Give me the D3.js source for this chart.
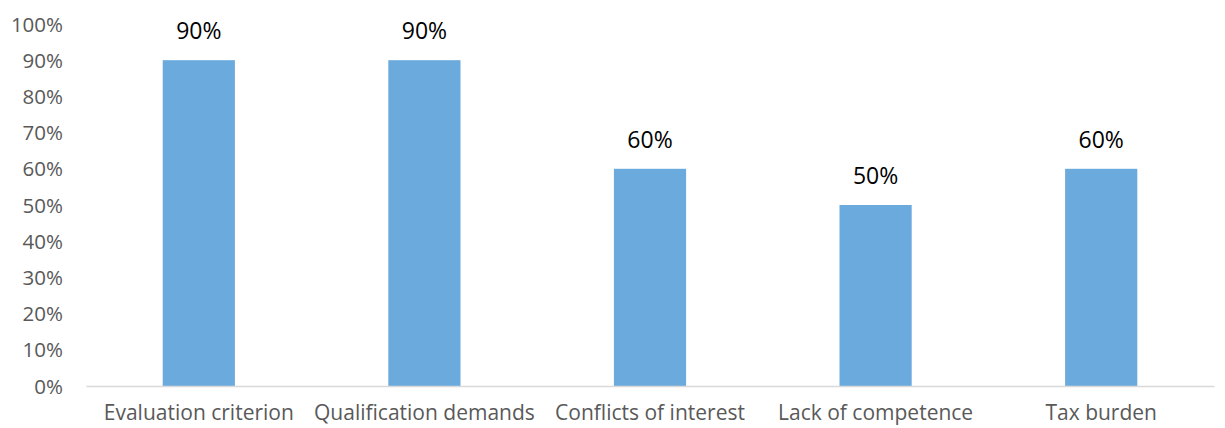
<!DOCTYPE html>
<html><head><meta charset="utf-8">
<script src="https://cdn.jsdelivr.net/npm/d3@7"></script>
<style>body{margin:0;background:#fff}</style>
</head><body>
<svg id="c" width="1225" height="428"></svg>
<script>
const categories = ["Evaluation criterion","Qualification demands","Conflicts of interest","Lack of competence","Tax burden"];
const values = [0.9,0.9,0.6,0.5,0.6];
const yTicks = [0,0.1,0.2,0.3,0.4,0.5,0.6,0.7,0.8,0.9,1.0];

const svg = d3.select("#c");
const x = d3.scaleBand().domain(categories).range([86,1214]).padding(0);
const y = d3.scaleLinear().domain([0,1]).range([386,24]);
const barW = x.bandwidth()*0.32;
const font = "'Open Sans', sans-serif";

const yAxis = d3.axisLeft(y).tickValues(yTicks).tickFormat(d3.format(".0%")).tickSize(0).tickPadding(0);
const gy = svg.append("g").attr("transform","translate(63,0)").call(yAxis);
gy.select(".domain").remove();
gy.selectAll("text").attr("font-family",font).attr("font-size",20.5).attr("fill","#595959").attr("dy","0.35em");

svg.selectAll("rect.bar").data(values).join("rect").attr("class","bar")
  .attr("x",(d,i)=>x(categories[i])+x.bandwidth()/2-barW/2)
  .attr("width",barW)
  .attr("y",d=>y(d)).attr("height",d=>y(0)-y(d))
  .attr("fill","#6aaadc");

const xAxis = d3.axisBottom(x).tickSize(0).tickPadding(0);
const gx = svg.append("g").attr("transform","translate(0,386)").call(xAxis);
gx.select(".domain").attr("stroke","#d9d9d9").attr("stroke-width",1.5);
gx.selectAll("text").attr("font-family",font).attr("font-size",21).attr("fill","#595959").attr("dy","1.6em");

svg.selectAll("text.lbl").data(values).join("text").attr("class","lbl")
  .attr("x",(d,i)=>x(categories[i])+x.bandwidth()/2)
  .attr("y",d=>y(d)-21)
  .attr("text-anchor","middle")
  .attr("font-family",font).attr("font-size",23).attr("fill","#000")
  .text(d=>d3.format(".0%")(d));
</script>
</body></html>
